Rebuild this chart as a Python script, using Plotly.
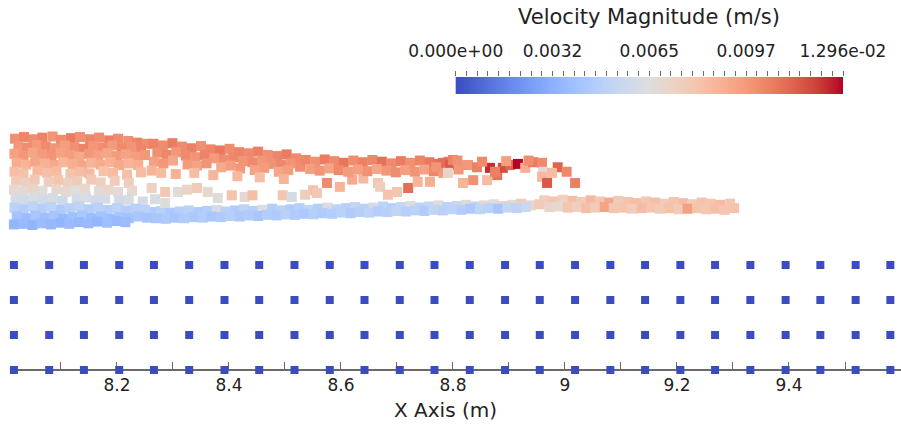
import numpy as np
import plotly.graph_objects as go

# ---------------- data ----------------
V_MAX = 0.01296  # m/s, colour range upper bound

# velocity colour-bar labels
cbar_vals = [0.0, 0.00324, 0.00648, 0.00972, 0.01296]
cbar_text = ["0.000e+00", "0.0032", "0.0065", "0.0097", "1.296e-02"]

# X axis ticks (m)
x_tick_vals = [8.1, 8.2, 8.3, 8.4, 8.5, 8.6, 8.7, 8.8, 8.9, 9.0, 9.1, 9.2, 9.3, 9.4, 9.5]
x_tick_text = ["", "8.2", "", "8.4", "", "8.6", "", "8.8", "", "9", "", "9.2", "", "9.4", ""]

# wall (boundary) particles: columns and rows, speed 0
wall_x = [8.016, 8.079, 8.141, 8.204, 8.266, 8.329, 8.392, 8.454, 8.517, 8.580,
          8.642, 8.705, 8.767, 8.830, 8.893, 8.955, 9.018, 9.081, 9.143, 9.206,
          9.268, 9.331, 9.394, 9.456, 9.519, 9.581]
wall_y = [0.0, 0.0625, 0.125, 0.1875]
wall_speed = 0.0

# fluid particles -- speeds in mm/s
head_x = [8.018, 8.034, 8.051, 8.067, 8.085, 8.100, 8.118, 8.134, 8.152, 8.168, 8.186, 8.202, 8.220, 8.236, 8.253,
          8.024, 8.040, 8.057, 8.073, 8.091, 8.107, 8.124, 8.141, 8.158, 8.175, 8.192, 8.209, 8.226, 8.243,
          8.017, 8.033, 8.050, 8.066, 8.083, 8.100, 8.116, 8.133, 8.150, 8.166, 8.183, 8.200, 8.216, 8.233, 8.250,
          8.021, 8.038, 8.054, 8.071, 8.088, 8.104, 8.121, 8.138, 8.154, 8.171, 8.188, 8.204, 8.221, 8.238,
          8.017, 8.033, 8.058, 8.075, 8.092, 8.117, 8.134, 8.151, 8.176, 8.193, 8.218, 8.243,
          8.020, 8.037, 8.053, 8.078, 8.095, 8.112, 8.129, 8.154, 8.171, 8.196, 8.221,
          8.016, 8.033, 8.050, 8.067, 8.092, 8.109, 8.126, 8.143, 8.168, 8.185, 8.202, 8.227,
          8.019, 8.035, 8.052, 8.069, 8.086, 8.103, 8.128, 8.145, 8.162, 8.179, 8.204, 8.221, 8.246,
          8.017, 8.033, 8.050, 8.066, 8.083, 8.100, 8.116, 8.133, 8.150, 8.166, 8.183, 8.200, 8.216, 8.233, 8.250,
          8.021, 8.038, 8.054, 8.071, 8.088, 8.104, 8.121, 8.138, 8.154, 8.171, 8.188, 8.204, 8.221, 8.238, 8.254,
          8.016, 8.032, 8.049, 8.065, 8.082, 8.099, 8.115, 8.132, 8.149, 8.165, 8.182, 8.199, 8.215]
head_y = [0.413, 0.416, 0.412, 0.415, 0.417, 0.411, 0.414, 0.416, 0.412, 0.415, 0.410, 0.413, 0.409, 0.406, 0.404,
          0.400, 0.397, 0.402, 0.399, 0.396, 0.401, 0.398, 0.395, 0.400, 0.397, 0.401, 0.396, 0.398, 0.394,
          0.386, 0.383, 0.388, 0.385, 0.382, 0.387, 0.384, 0.381, 0.386, 0.383, 0.387, 0.382, 0.385, 0.381, 0.384,
          0.370, 0.367, 0.372, 0.369, 0.366, 0.371, 0.368, 0.365, 0.370, 0.367, 0.371, 0.366, 0.369, 0.366,
          0.354, 0.351, 0.356, 0.352, 0.355, 0.350, 0.354, 0.351, 0.355, 0.352, 0.349, 0.353,
          0.338, 0.335, 0.340, 0.336, 0.339, 0.334, 0.337, 0.340, 0.335, 0.338, 0.334,
          0.322, 0.319, 0.324, 0.320, 0.323, 0.318, 0.321, 0.324, 0.319, 0.322, 0.318, 0.320,
          0.306, 0.303, 0.308, 0.304, 0.307, 0.302, 0.305, 0.308, 0.303, 0.306, 0.302, 0.304, 0.301,
          0.290, 0.287, 0.292, 0.288, 0.291, 0.286, 0.289, 0.292, 0.287, 0.290, 0.286, 0.289, 0.285, 0.288, 0.286,
          0.274, 0.271, 0.276, 0.272, 0.275, 0.270, 0.273, 0.276, 0.271, 0.274, 0.270, 0.273, 0.271, 0.274, 0.272,
          0.260, 0.261, 0.259, 0.262, 0.260, 0.263, 0.261, 0.264, 0.262, 0.265, 0.263, 0.266, 0.264]
head_v = [10.0, 10.3, 10.1, 10.4, 9.9, 10.2, 10.6, 10.0, 10.3, 10.1, 10.5, 10.2, 10.0, 10.4, 10.1,
          9.8, 10.1, 9.7, 10.2, 9.9, 9.6, 10.0, 10.4, 9.8, 10.1, 9.7, 10.2, 9.9, 10.3,
          9.5, 9.8, 9.3, 9.7, 9.9, 9.4, 9.6, 9.2, 9.8, 9.5, 9.3, 9.7, 9.4, 9.6, 9.8,
          9.1, 8.8, 9.3, 8.9, 9.2, 8.7, 9.0, 9.3, 8.8, 9.1, 8.9, 9.2, 8.8, 9.0,
          8.4, 8.2, 8.6, 8.3, 8.5, 8.1, 8.4, 8.6, 8.2, 8.5, 8.3, 8.4,
          7.8, 7.5, 7.9, 7.6, 8.0, 7.4, 7.7, 7.9, 7.5, 7.8, 7.6,
          7.0, 6.8, 7.2, 6.7, 7.1, 6.9, 6.6, 7.0, 6.8, 7.1, 6.7, 6.9,
          6.1, 5.8, 6.3, 5.9, 6.2, 5.7, 6.0, 6.3, 5.8, 6.1, 5.9, 6.2, 6.0,
          5.0, 4.7, 5.2, 4.8, 5.1, 4.6, 4.9, 5.2, 4.7, 5.0, 4.8, 5.1, 4.7, 4.9, 5.0,
          4.1, 3.8, 4.3, 3.9, 4.2, 3.7, 4.0, 4.3, 3.8, 4.1, 3.9, 4.2, 4.0, 4.3, 4.1,
          3.5, 3.7, 3.4, 3.8, 3.6, 3.5, 3.8, 3.6, 3.7, 3.5, 3.9, 3.7, 3.8]

crest_x = [8.265, 8.282, 8.299, 8.316, 8.333, 8.350, 8.367, 8.384, 8.401, 8.418, 8.435, 8.452, 8.469, 8.486, 8.503, 8.520,
           8.272, 8.289, 8.306, 8.323, 8.340, 8.357, 8.374, 8.391, 8.408, 8.425, 8.442, 8.459, 8.476, 8.493, 8.510, 8.527,
           8.266, 8.283, 8.300, 8.326, 8.343, 8.360, 8.386, 8.403, 8.420, 8.446, 8.463, 8.489, 8.506,
           8.262, 8.279, 8.305, 8.338, 8.372, 8.415, 8.455, 8.498,
           8.537, 8.554, 8.571, 8.588, 8.605, 8.622, 8.639, 8.656, 8.673, 8.690, 8.707, 8.724, 8.741, 8.758, 8.775, 8.792,
           8.545, 8.562, 8.579, 8.596, 8.613, 8.630, 8.647, 8.664, 8.681, 8.698, 8.715, 8.732, 8.749, 8.766, 8.783,
           8.782, 8.795, 8.800, 8.791, 8.818, 8.827, 8.843, 8.866, 8.879, 8.889, 8.902, 8.916, 8.929, 8.943, 8.959, 8.961,
           8.959, 8.968, 8.987, 9.003, 9.018, 8.977, 8.818, 8.836, 8.861, 8.875, 8.810, 8.852, 8.895, 8.935, 8.808, 8.770]
crest_y = [0.404, 0.401, 0.405, 0.399, 0.396, 0.400, 0.394, 0.392, 0.395, 0.389, 0.387, 0.390, 0.384, 0.382, 0.385, 0.378,
           0.388, 0.384, 0.389, 0.383, 0.380, 0.384, 0.378, 0.376, 0.380, 0.373, 0.371, 0.374, 0.368, 0.366, 0.369, 0.363,
           0.372, 0.369, 0.374, 0.367, 0.365, 0.369, 0.362, 0.365, 0.360, 0.357, 0.361, 0.354, 0.357,
           0.356, 0.352, 0.350, 0.352, 0.348, 0.346, 0.344, 0.341,
           0.375, 0.372, 0.376, 0.373, 0.370, 0.374, 0.371, 0.375, 0.372, 0.369, 0.373, 0.370, 0.374, 0.371, 0.368, 0.372,
           0.359, 0.356, 0.360, 0.357, 0.354, 0.358, 0.355, 0.359, 0.356, 0.353, 0.357, 0.354, 0.358, 0.355, 0.352,
           0.370, 0.366, 0.375, 0.352, 0.366, 0.366, 0.362, 0.361, 0.348, 0.361, 0.366, 0.368, 0.361, 0.371, 0.370, 0.354,
           0.345, 0.334, 0.362, 0.354, 0.334, 0.352, 0.334, 0.339, 0.339, 0.354, 0.358, 0.372, 0.373, 0.374, 0.374, 0.362]
crest_v = [10.4, 10.1, 10.6, 10.2, 10.5, 10.0, 10.3, 10.7, 10.1, 10.4, 10.2, 10.5, 10.0, 10.3, 10.6, 10.2,
           10.0, 10.3, 9.8, 10.2, 9.9, 10.4, 9.7, 10.1, 10.3, 9.9, 10.2, 9.8, 10.0, 10.3, 9.9, 10.1,
           9.5, 9.8, 9.3, 9.7, 9.4, 9.9, 9.2, 9.6, 9.8, 9.4, 9.7, 9.3, 9.6,
           8.8, 8.5, 8.9, 8.4, 8.7, 8.6, 8.3, 8.8,
           10.3, 10.0, 10.6, 10.2, 10.8, 10.1, 10.5, 10.3, 10.9, 10.2, 10.6, 10.0, 10.4, 10.7, 10.9, 10.3,
           9.6, 9.9, 9.4, 10.2, 9.7, 9.5, 10.0, 9.3, 9.8, 10.1, 9.5, 9.9, 9.4, 10.3, 9.7,
           11.0, 11.5, 10.4, 7.2, 9.4, 9.8, 10.5, 12.4, 10.8, 11.8, 11.2, 12.96, 9.0, 10.6, 10.2, 6.8,
           8.6, 11.5, 11.3, 10.3, 10.5, 8.5, 8.8, 10.0, 8.5, 10.5, 9.8, 10.2, 9.6, 10.1, 10.0, 9.9]

drops_x = [8.262, 8.286, 8.309, 8.325, 8.343, 8.362, 8.380, 8.405, 8.428, 8.442, 8.496, 8.512, 8.286, 8.268,
           8.575, 8.598, 8.550, 8.557, 8.536, 8.666, 8.670, 8.684, 8.700, 8.720, 8.737, 8.759, 8.620, 8.640]
drops_y = [0.325, 0.318, 0.318, 0.322, 0.325, 0.318, 0.307, 0.312, 0.309, 0.312, 0.312, 0.309, 0.298, 0.305,
           0.334, 0.327, 0.321, 0.316, 0.313, 0.334, 0.327, 0.313, 0.318, 0.325, 0.336, 0.336, 0.340, 0.342]
drops_v = [7.4, 7.9, 6.7, 7.2, 7.8, 6.9, 6.6, 8.2, 6.8, 8.3, 8.1, 6.0, 6.5, 6.2,
           10.2, 8.8, 8.2, 7.9, 7.6, 8.0, 7.5, 8.2, 8.0, 11.0, 8.8, 9.0, 9.2, 8.6]

base_x = [8.262, 8.279, 8.295, 8.312, 8.328, 8.345, 8.361, 8.378, 8.394, 8.411, 8.427, 8.444, 8.460, 8.477, 8.493,
          8.510, 8.526, 8.543, 8.559, 8.576, 8.592, 8.609, 8.625, 8.642, 8.658, 8.675, 8.691, 8.708, 8.724, 8.741,
          8.757, 8.774, 8.790, 8.807, 8.823, 8.840, 8.856, 8.873, 8.889, 8.906, 8.922, 8.939, 8.955,
          8.270, 8.287, 8.303, 8.320, 8.336, 8.353, 8.369, 8.386, 8.402, 8.419, 8.435, 8.452, 8.468, 8.485, 8.501,
          8.518, 8.534, 8.551, 8.567, 8.584, 8.600, 8.617, 8.633, 8.650, 8.666, 8.683, 8.699, 8.716, 8.732, 8.749,
          8.765, 8.782, 8.798, 8.815, 8.831, 8.848, 8.864, 8.881, 8.897, 8.914, 8.930]
base_y = [0.282, 0.284, 0.281, 0.283, 0.285, 0.282, 0.284, 0.286, 0.283, 0.285, 0.287, 0.284, 0.286, 0.288, 0.285,
          0.287, 0.289, 0.286, 0.288, 0.290, 0.287, 0.289, 0.291, 0.288, 0.290, 0.292, 0.289, 0.291, 0.293, 0.290,
          0.292, 0.294, 0.291, 0.293, 0.295, 0.292, 0.294, 0.296, 0.293, 0.295, 0.297, 0.294, 0.296,
          0.271, 0.270, 0.272, 0.271, 0.273, 0.272, 0.274, 0.273, 0.275, 0.274, 0.276, 0.275, 0.277, 0.276, 0.278,
          0.277, 0.279, 0.278, 0.280, 0.279, 0.281, 0.280, 0.282, 0.281, 0.283, 0.282, 0.284, 0.283, 0.285, 0.284,
          0.286, 0.285, 0.287, 0.286, 0.288, 0.287, 0.289, 0.288, 0.290, 0.289, 0.291]
base_v = [4.6, 4.9, 4.4, 4.8, 5.0, 4.5, 4.7, 6.2, 4.9, 4.6, 5.1, 4.8, 6.4, 4.7, 5.0,
          4.6, 4.9, 5.2, 4.8, 6.3, 5.1, 4.9, 5.3, 5.0, 6.1, 5.2, 4.8, 5.4, 6.5, 5.1,
          5.3, 6.6, 5.0, 5.5, 6.8, 5.2, 7.0, 6.4, 7.3, 6.7, 7.6, 7.1, 7.8,
          4.3, 4.5, 4.2, 4.6, 4.4, 4.7, 4.3, 4.5, 4.8, 4.4, 4.6, 4.3, 4.7, 4.5, 4.9,
          4.6, 4.4, 4.8, 4.5, 4.7, 5.0, 4.6, 4.8, 5.1, 4.7, 4.9, 5.2, 4.8, 5.0, 4.6,
          5.3, 4.9, 5.1, 4.7, 4.4, 5.2, 5.0, 4.2, 5.4, 5.1, 5.6]

tail_x = [8.963, 8.980, 8.996, 9.013, 9.029, 9.046, 9.062, 9.079, 9.095, 9.112, 9.128, 9.145, 9.161, 9.178, 9.194,
          9.211, 9.227, 9.244, 9.260, 9.277, 9.295,
          8.972, 8.988, 9.005, 9.021, 9.038, 9.054, 9.071, 9.087, 9.104, 9.120, 9.137, 9.153, 9.170, 9.186, 9.203,
          9.219, 9.236, 9.252, 9.269, 9.285, 9.302]
tail_y = [0.303, 0.301, 0.304, 0.302, 0.300, 0.303, 0.301, 0.299, 0.302, 0.300, 0.298, 0.301, 0.299, 0.297, 0.300,
          0.298, 0.296, 0.299, 0.297, 0.295, 0.297,
          0.291, 0.292, 0.290, 0.291, 0.289, 0.290, 0.291, 0.289, 0.290, 0.288, 0.289, 0.290, 0.288, 0.289, 0.287,
          0.288, 0.289, 0.287, 0.288, 0.286, 0.289]
tail_v = [7.6, 8.1, 7.4, 8.3, 7.8, 8.6, 8.0, 9.3, 7.7, 8.2, 8.5, 7.9, 8.3, 7.6, 8.1,
          8.4, 7.8, 8.2, 8.0, 8.5, 7.9,
          7.2, 6.9, 8.0, 7.5, 8.3, 7.7, 9.4, 7.9, 8.1, 7.6, 8.4, 8.0, 7.8, 8.2, 7.7,
          9.5, 8.1, 7.9, 8.3, 8.0, 8.2]

# ---------------- colour map (Cool to Warm) ----------------
cool_warm = [
    [0.0, "rgb(59,76,192)"], [0.0625, "rgb(77,104,215)"], [0.125, "rgb(98,130,234)"],
    [0.1875, "rgb(119,154,247)"], [0.25, "rgb(141,176,254)"], [0.3125, "rgb(163,194,255)"],
    [0.375, "rgb(184,208,249)"], [0.4375, "rgb(204,217,238)"], [0.5, "rgb(221,221,221)"],
    [0.5625, "rgb(236,211,197)"], [0.625, "rgb(245,196,173)"], [0.6875, "rgb(247,177,148)"],
    [0.75, "rgb(244,154,123)"], [0.8125, "rgb(236,127,99)"], [0.875, "rgb(222,96,77)"],
    [0.9375, "rgb(203,62,56)"], [1.0, "rgb(180,4,38)"],
]

# ---------------- assemble ----------------
bands = [(base_x, base_y, base_v), (tail_x, tail_y, tail_v), (head_x, head_y, head_v),
         (drops_x, drops_y, drops_v), (crest_x, crest_y, crest_v)]
fx, fy, fv = [], [], []
for bx, by, bv in bands:
    if not (len(bx) == len(by) == len(bv)):
        raise ValueError(f"length mismatch {len(bx)} {len(by)} {len(bv)}")
    fx += bx
    fy += by
    fv += bv
fv = np.array(fv) / 1000.0  # mm/s -> m/s

gx, gy = np.meshgrid(wall_x, wall_y)
gx = gx.ravel()
gy = gy.ravel()
gv = np.full(gx.shape, wall_speed)

FONT = "DejaVu Sans, sans-serif"
TXT = "#222222"
AX = "#6a6a6a"

fig = go.Figure()
fig.add_trace(go.Scatter(
    x=gx, y=gy, mode="markers", cliponaxis=False, hoverinfo="skip",
    marker=dict(symbol="square", size=8, color=gv, colorscale=cool_warm,
                cmin=0, cmax=V_MAX, line=dict(width=0)),
    showlegend=False))
fig.add_trace(go.Scatter(
    x=fx, y=fy, mode="markers", cliponaxis=False,
    marker=dict(symbol="square", size=10, color=fv, colorscale=cool_warm,
                cmin=0, cmax=V_MAX, line=dict(width=0)),
    showlegend=False))

# colour bar drawn as a heat-map strip on its own axes
ramp = np.linspace(0, V_MAX, 256)
fig.add_trace(go.Heatmap(
    x=ramp, y=[0, 1], z=[ramp, ramp], colorscale=cool_warm, zmin=0, zmax=V_MAX,
    showscale=False, xaxis="x3", yaxis="y3", hoverinfo="skip"))

AXPOS = 57 / 427
fig.update_layout(
    width=901, height=427,
    margin=dict(l=0, r=0, t=0, b=0, autoexpand=False),
    paper_bgcolor="white", plot_bgcolor="white",
    font=dict(family=FONT, color=TXT),
    xaxis=dict(domain=[10 / 901, 1], range=[8.009, 9.600], anchor="free", position=AXPOS,
               automargin=False,
               showgrid=False, zeroline=False, showline=True, linecolor=AX, linewidth=1.5,
               ticks="inside", ticklen=7, tickwidth=1, tickcolor=AX,
               tickvals=x_tick_vals, ticktext=x_tick_text, tickfont=dict(size=17, color=TXT),
               layer="below traces"),
    xaxis2=dict(overlaying="x", matches="x", anchor="free", position=AXPOS, automargin=False,
                showgrid=False, zeroline=False, showline=False,
                ticks="outside", ticklen=7, tickwidth=1, tickcolor=AX,
                tickvals=x_tick_vals, showticklabels=False, layer="below traces"),
    yaxis=dict(domain=[0, 1], range=[-57 / 560, 370 / 560], visible=False, automargin=False),
    xaxis3=dict(domain=[455.7 / 901, 843 / 901], anchor="y3", side="top", range=[0, V_MAX],
                automargin=False,
                showgrid=False, zeroline=False, showline=False,
                ticks="outside", ticklen=5, tickwidth=1, tickcolor=AX,
                tickvals=cbar_vals, ticktext=cbar_text, tickfont=dict(size=17, color=TXT),
                ticklabelstandoff=7,
                minor=dict(dtick=0.00036, tick0=0, ticks="outside", ticklen=5, tickwidth=1, tickcolor=AX)),
    xaxis4=dict(overlaying="x3", matches="x3", anchor="y3", side="top", automargin=False,
                showgrid=False, zeroline=False, showline=False,
                ticks="inside", ticklen=5, tickwidth=1, tickcolor=AX,
                tickvals=cbar_vals[1:4], showticklabels=False),
    yaxis3=dict(domain=[(427 - 94) / 427, (427 - 77) / 427], anchor="x3", range=[0, 1],
                visible=False, automargin=False),
    annotations=[
        dict(text="Velocity Magnitude (m/s)", x=649 / 901, y=1 - 17 / 427,
             xref="paper", yref="paper", xanchor="center", yanchor="middle",
             showarrow=False, font=dict(size=21, color=TXT, family=FONT)),
        dict(text="X Axis (m)", x=445 / 901, y=1 - 410 / 427,
             xref="paper", yref="paper", xanchor="center", yanchor="middle",
             showarrow=False, font=dict(size=20, color=TXT, family=FONT)),
    ],
)

fig.write_html("out.html", config={"displayModeBar": False},
               post_script="document.body.style.margin='0px';document.body.style.overflow='hidden';")
